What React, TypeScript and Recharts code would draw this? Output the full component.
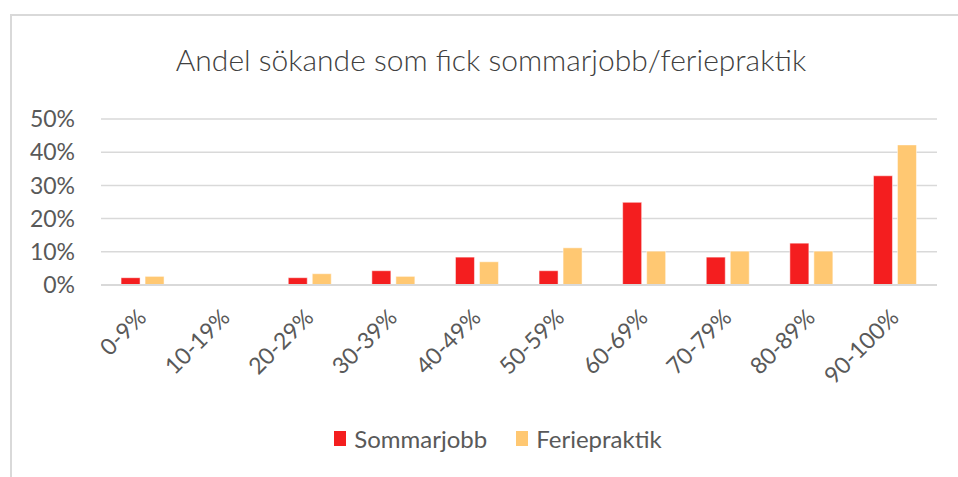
import React from 'react';
import { BarChart, Bar, XAxis, YAxis, CartesianGrid, Legend } from 'recharts';

const categories = ['0-9%', '10-19%', '20-29%', '30-39%', '40-49%', '50-59%', '60-69%', '70-79%', '80-89%', '90-100%'];
const sommarjobb = [2.2, 0, 2.2, 4.3, 8.4, 4.3, 24.9, 8.4, 12.6, 32.9];
const feriepraktik = [2.6, 0, 3.4, 2.6, 7.0, 11.2, 10.2, 10.2, 10.2, 42.2];
const yTicks = [0, 10, 20, 30, 40, 50];
const seriesOrder = ['Sommarjobb', 'Feriepraktik'];

const RED = '#f41e1f';
const ORANGE = '#ffc872';
const TEXT = '#595959';
const FONT = 'Lato, "Open Sans", sans-serif';

const chartData = categories.map((cat, i) => ({
  cat,
  sommarjobb: sommarjobb[i],
  feriepraktik: feriepraktik[i],
}));

const AngledTick = (props: any) => {
  const { x, y, payload } = props;
  const ax = x + 5;
  const ay = y + 26;
  return (
    <text
      x={ax}
      y={ay}
      transform={`rotate(-45, ${ax}, ${ay})`}
      textAnchor="end"
      fill={TEXT}
      fontSize={23}
      fontFamily={FONT}
    >
      {payload.value}
    </text>
  );
};

const renderLegend = (props: any) => {
  const items = [...(props.payload || [])].sort(
    (a: any, b: any) => seriesOrder.indexOf(a.value) - seriesOrder.indexOf(b.value)
  );
  return (
    <div style={{ display: 'flex', justifyContent: 'center', alignItems: 'center', height: 40, paddingLeft: 88 }}>
      {items.map((entry: any) => (
        <div key={entry.value} style={{ display: 'flex', alignItems: 'center', marginRight: 29 }}>
          <span style={{ display: 'inline-block', width: 12, height: 15, background: entry.color, marginRight: 8 }} />
          <span style={{ fontSize: 24, color: TEXT, fontFamily: FONT }}>{entry.value}</span>
        </div>
      ))}
    </div>
  );
};

export default function App() {
  return (
    <div style={{ position: 'absolute', left: 0, top: 0, width: 958, height: 477, background: '#fff', overflow: 'hidden' }}>
      <div
        style={{
          position: 'absolute',
          left: 10,
          top: 14,
          width: 960,
          height: 480,
          borderTop: '2px solid #d9d9d9',
          borderLeft: '2px solid #d9d9d9',
        }}
      />
      <div
        style={{
          position: 'absolute',
          left: 0,
          width: 982,
          top: 41,
          textAlign: 'center',
          fontSize: 30,
          fontWeight: 300,
          color: '#404040',
          fontFamily: FONT,
        }}
      >
        Andel sökande som fick sommarjobb/feriepraktik
      </div>
      <div style={{ position: 'absolute', left: 0, top: 0 }}>
        <BarChart
          width={958}
          height={477}
          data={chartData}
          margin={{ top: 119, right: 21, bottom: 19, left: 0 }}
          barCategoryGap="24%"
          barGap={5}
        >
          <CartesianGrid vertical={false} stroke="#d9d9d9" strokeWidth={1.5} />
          <XAxis
            dataKey="cat"
            tick={<AngledTick />}
            tickLine={false}
            axisLine={{ stroke: '#d9d9d9', strokeWidth: 2 }}
            interval={0}
            height={133}
          />
          <YAxis
            domain={[0, 50]}
            ticks={yTicks}
            tickFormatter={(v: number) => `${v}%`}
            tickLine={false}
            axisLine={false}
            width={101}
            tickMargin={20}
            tick={{ fill: TEXT, fontSize: 23, fontFamily: FONT }}
          />
          <Legend verticalAlign="bottom" content={renderLegend} wrapperStyle={{ height: 40 }} />
          <Bar dataKey="sommarjobb" name="Sommarjobb" fill={RED} stroke="#ffffff" strokeOpacity={0.5} isAnimationActive={false} />
          <Bar dataKey="feriepraktik" name="Feriepraktik" fill={ORANGE} stroke="#ffffff" strokeOpacity={0.5} isAnimationActive={false} />
        </BarChart>
      </div>
    </div>
  );
}
